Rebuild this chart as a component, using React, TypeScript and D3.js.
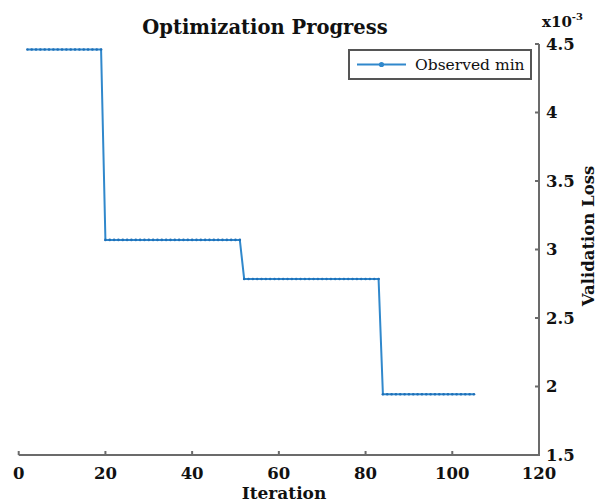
import React from "react";
import * as d3 from "d3";

const iterations: number[] = [
  2, 3, 4, 5, 6, 7, 8, 9, 10, 11, 12, 13, 14, 15, 16, 17, 18, 19,
  20, 21, 22, 23, 24, 25, 26, 27, 28, 29, 30, 31, 32, 33, 34, 35, 36, 37, 38, 39, 40, 41, 42, 43, 44, 45, 46, 47, 48, 49, 50, 51,
  52, 53, 54, 55, 56, 57, 58, 59, 60, 61, 62, 63, 64, 65, 66, 67, 68, 69, 70, 71, 72, 73, 74, 75, 76, 77, 78, 79, 80, 81, 82, 83,
  84, 85, 86, 87, 88, 89, 90, 91, 92, 93, 94, 95, 96, 97, 98, 99, 100, 101, 102, 103, 104, 105,
];

const observedMin: number[] = [
  0.00446, 0.00446, 0.00446, 0.00446, 0.00446, 0.00446, 0.00446, 0.00446, 0.00446,
  0.00446, 0.00446, 0.00446, 0.00446, 0.00446, 0.00446, 0.00446, 0.00446, 0.00446,
  0.00307, 0.00307, 0.00307, 0.00307, 0.00307, 0.00307, 0.00307, 0.00307,
  0.00307, 0.00307, 0.00307, 0.00307, 0.00307, 0.00307, 0.00307, 0.00307,
  0.00307, 0.00307, 0.00307, 0.00307, 0.00307, 0.00307, 0.00307, 0.00307,
  0.00307, 0.00307, 0.00307, 0.00307, 0.00307, 0.00307, 0.00307, 0.00307,
  0.002785, 0.002785, 0.002785, 0.002785, 0.002785, 0.002785, 0.002785, 0.002785,
  0.002785, 0.002785, 0.002785, 0.002785, 0.002785, 0.002785, 0.002785, 0.002785,
  0.002785, 0.002785, 0.002785, 0.002785, 0.002785, 0.002785, 0.002785, 0.002785,
  0.002785, 0.002785, 0.002785, 0.002785, 0.002785, 0.002785, 0.002785, 0.002785,
  0.001943, 0.001943, 0.001943, 0.001943, 0.001943, 0.001943, 0.001943, 0.001943,
  0.001943, 0.001943, 0.001943, 0.001943, 0.001943, 0.001943, 0.001943, 0.001943,
  0.001943, 0.001943, 0.001943, 0.001943, 0.001943, 0.001943,
];

const xTicks: number[] = [0, 20, 40, 60, 80, 100, 120];
const yTicks: number[] = [0.0015, 0.002, 0.0025, 0.003, 0.0035, 0.004, 0.0045];
const yTickLabels: string[] = ["1.5", "2", "2.5", "3", "3.5", "4", "4.5"];

const W = 599;
const H = 502;
const FONT = "'DejaVu Serif', serif";
const AXIS = "#6b6b6b";
const BLUE = "#3088cc";
const DOT = "#1f70b8";

export default function App() {
  const x = d3.scaleLinear().domain([0, 120]).range([18.7, 539]);
  const y = d3.scaleLinear().domain([0.0015, 0.0045]).range([455, 44]);
  const pts = iterations.map((it, i) => [it, observedMin[i]] as [number, number]);
  const line = d3
    .line<[number, number]>()
    .x((d) => x(d[0]))
    .y((d) => y(d[1]));

  const x0 = x(0);
  const x1 = x(120);
  const yb = y(0.0015);
  const yt = y(0.0045);

  return (
    <svg
      width={W}
      height={H}
      style={{ position: "absolute", left: 0, top: 0, background: "#fff" }}
      fontFamily={FONT}
    >
      <rect width={W} height={H} fill="#fff" />
      {/* title */}
      <text x={265} y={34} textAnchor="middle" fontSize={19.5} fontWeight="bold" fill="#111">
        Optimization Progress
      </text>

      {/* axes */}
      <path d={`M${x0},${yb}H${x1}V${yt}`} fill="none" stroke={AXIS} strokeWidth={2} />
      {xTicks.map((t) => (
        <g key={"xt" + t}>
          <line x1={x(t)} x2={x(t)} y1={yb} y2={yb - 4} stroke={AXIS} strokeWidth={2} />
          <text x={x(t)} y={479} textAnchor="middle" fontSize={16.5} fontWeight="bold" fill="#111">
            {t}
          </text>
        </g>
      ))}
      {yTicks.map((t, i) => (
        <g key={"yt" + i}>
          <line x1={x1} x2={x1 - 4} y1={y(t)} y2={y(t)} stroke={AXIS} strokeWidth={2} />
          <text x={546} y={y(t)} dy="0.35em" fontSize={16.5} fontWeight="bold" fill="#111">
            {yTickLabels[i]}
          </text>
        </g>
      ))}
      <text x={542} y={27} fontSize={15} fontWeight="bold" fill="#111">
        x10
        <tspan dy={-7} fontSize={10}>-3</tspan>
      </text>

      {/* axis labels */}
      <text x={284} y={499} textAnchor="middle" fontSize={17} fontWeight="bold" fill="#111">
        Iteration
      </text>
      <text
        transform={`translate(594,${236}) rotate(-90)`}
        textAnchor="middle"
        fontSize={16.5}
        fontWeight="bold"
        fill="#111"
      >
        Validation Loss
      </text>

      {/* data */}
      <path d={line(pts) || ""} fill="none" stroke={BLUE} strokeWidth={2} />
      {pts.map((p, i) => (
        <circle key={"p" + i} cx={x(p[0])} cy={y(p[1])} r={1.3} fill={DOT} />
      ))}

      {/* legend */}
      <rect x={349} y={50} width={182} height={29} fill="#fff" stroke="#555" strokeWidth={2} />
      <line x1={357} x2={406} y1={64.5} y2={64.5} stroke={BLUE} strokeWidth={2} />
      <circle cx={381.5} cy={64.5} r={2.6} fill={BLUE} />
      <text x={415} y={70} fontSize={15.5} fill="#111">
        Observed min
      </text>
    </svg>
  );
}
